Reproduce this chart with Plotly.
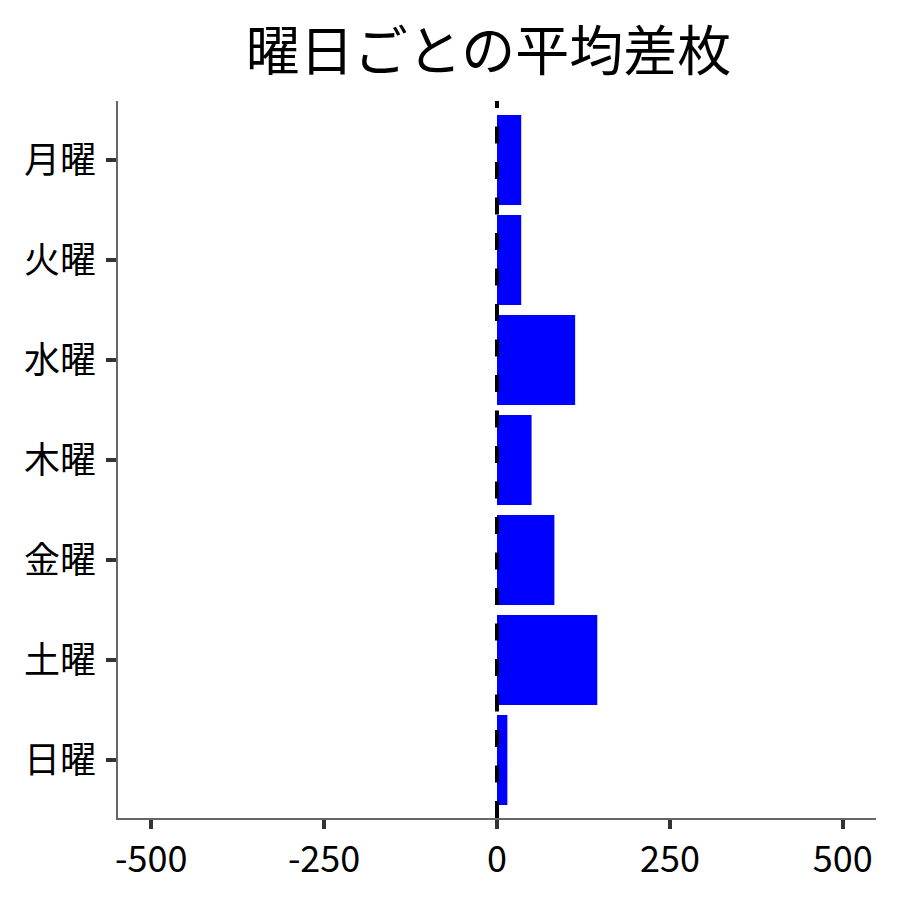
import plotly.graph_objects as go

# average coin difference by weekday
days = ["月曜", "火曜", "水曜", "木曜", "金曜", "土曜", "日曜"]
avg_diff = [35, 35, 113, 50, 83, 145, 15]
x_ticks = [-500, -250, 0, 250, 500]

FONT = "Noto Sans CJK JP"

fig = go.Figure()
fig.add_trace(go.Bar(
    x=avg_diff, y=days, orientation="h",
    marker=dict(color="#0000ff", line=dict(width=0)),
))

# zero reference line
fig.add_vline(x=0, line=dict(color="black", width=4, dash="17px,18.5px"))

fig.update_layout(
    width=900, height=900,
    margin=dict(l=110, r=32, t=93, b=90),
    plot_bgcolor="white", paper_bgcolor="white",
    title=dict(text="曜日ごとの平均差枚", x=0.534, xanchor="center",
               y=0.951, yanchor="middle",
               font=dict(family=FONT, size=54, color="black")),
    font=dict(family=FONT, color="black"),
    bargap=0.1,
    showlegend=False,
)
fig.update_xaxes(
    range=[-548, 548], tickvals=x_ticks, ticktext=[str(v) for v in x_ticks],
    showgrid=False, zeroline=False,
    showline=True, linecolor="#666666", linewidth=1.5,
    ticks="outside", ticklen=9, tickwidth=3.5, tickcolor="#333333",
    tickfont=dict(size=36, family=FONT, color="black"),
)
fig.update_yaxes(
    categoryorder="array", categoryarray=days, range=[6.58, -0.59],
    showgrid=False, zeroline=False,
    showline=True, linecolor="#666666", linewidth=1.5,
    ticks="outside", ticklen=10, tickwidth=3.5, tickcolor="#333333",
    ticklabelstandoff=3,
    tickfont=dict(size=36, family=FONT, color="black"),
)

fig.write_html("out.html")
